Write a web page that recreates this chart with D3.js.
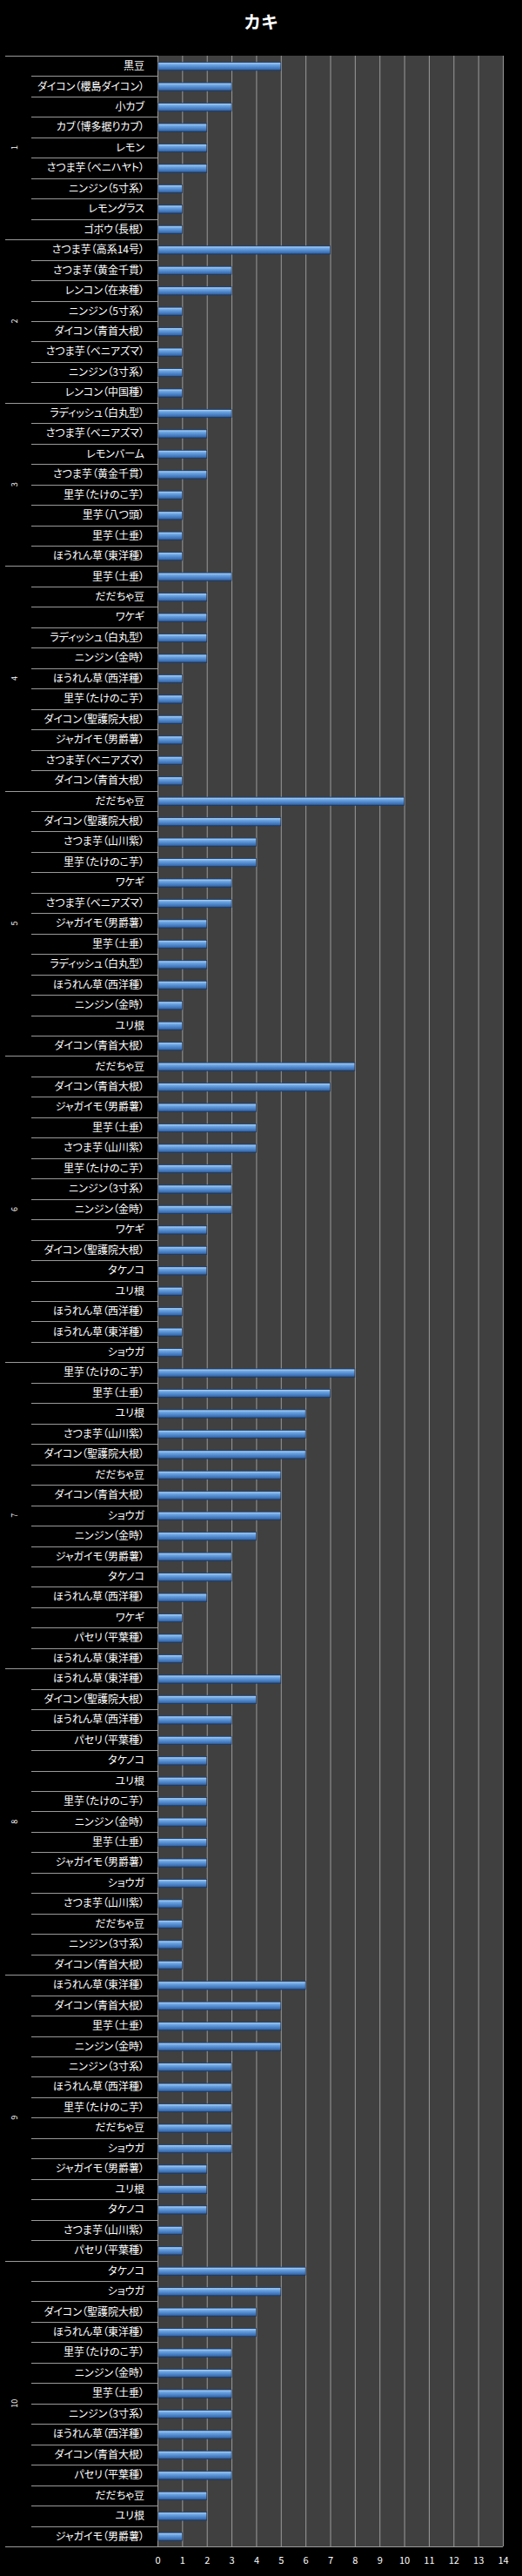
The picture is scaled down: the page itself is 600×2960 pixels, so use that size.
<!DOCTYPE html>
<html><head><meta charset="utf-8">
<script src="https://cdn.jsdelivr.net/npm/d3@7"></script>
<style>
html,body{margin:0;padding:0;background:#000;}
svg{display:block;}
text{font-family:"Noto Sans CJK JP","Noto Sans",sans-serif;}
.cat{font-feature-settings:"palt" 1;}
</style></head>
<body>
<div id="chart"></div>
<script>
const title = "カキ";
const groupNames = ["1","2","3","4","5","6","7","8","9","10"];
const categories = [
  ["黒豆","ダイコン（櫻島ダイコン）","小カブ","カブ（博多据りカブ）","レモン","さつま芋（ベニハヤト）","ニンジン（5寸系）","レモングラス","ゴボウ（長根）"],
  ["さつま芋（高系14号）","さつま芋（黄金千貫）","レンコン（在来種）","ニンジン（5寸系）","ダイコン（青首大根）","さつま芋（ベニアズマ）","ニンジン（3寸系）","レンコン（中国種）"],
  ["ラディッシュ（白丸型）","さつま芋（ベニアズマ）","レモンバーム","さつま芋（黄金千貫）","里芋（たけのこ芋）","里芋（八つ頭）","里芋（土垂）","ほうれん草（東洋種）"],
  ["里芋（土垂）","だだちゃ豆","ワケギ","ラディッシュ（白丸型）","ニンジン（金時）","ほうれん草（西洋種）","里芋（たけのこ芋）","ダイコン（聖護院大根）","ジャガイモ（男爵薯）","さつま芋（ベニアズマ）","ダイコン（青首大根）"],
  ["だだちゃ豆","ダイコン（聖護院大根）","さつま芋（山川紫）","里芋（たけのこ芋）","ワケギ","さつま芋（ベニアズマ）","ジャガイモ（男爵薯）","里芋（土垂）","ラディッシュ（白丸型）","ほうれん草（西洋種）","ニンジン（金時）","ユリ根","ダイコン（青首大根）"],
  ["だだちゃ豆","ダイコン（青首大根）","ジャガイモ（男爵薯）","里芋（土垂）","さつま芋（山川紫）","里芋（たけのこ芋）","ニンジン（3寸系）","ニンジン（金時）","ワケギ","ダイコン（聖護院大根）","タケノコ","ユリ根","ほうれん草（西洋種）","ほうれん草（東洋種）","ショウガ"],
  ["里芋（たけのこ芋）","里芋（土垂）","ユリ根","さつま芋（山川紫）","ダイコン（聖護院大根）","だだちゃ豆","ダイコン（青首大根）","ショウガ","ニンジン（金時）","ジャガイモ（男爵薯）","タケノコ","ほうれん草（西洋種）","ワケギ","パセリ（平葉種）","ほうれん草（東洋種）"],
  ["ほうれん草（東洋種）","ダイコン（聖護院大根）","ほうれん草（西洋種）","パセリ（平葉種）","タケノコ","ユリ根","里芋（たけのこ芋）","ニンジン（金時）","里芋（土垂）","ジャガイモ（男爵薯）","ショウガ","さつま芋（山川紫）","だだちゃ豆","ニンジン（3寸系）","ダイコン（青首大根）"],
  ["ほうれん草（東洋種）","ダイコン（青首大根）","里芋（土垂）","ニンジン（金時）","ニンジン（3寸系）","ほうれん草（西洋種）","里芋（たけのこ芋）","だだちゃ豆","ショウガ","ジャガイモ（男爵薯）","ユリ根","タケノコ","さつま芋（山川紫）","パセリ（平葉種）"],
  ["タケノコ","ショウガ","ダイコン（聖護院大根）","ほうれん草（東洋種）","里芋（たけのこ芋）","ニンジン（金時）","里芋（土垂）","ニンジン（3寸系）","ほうれん草（西洋種）","ダイコン（青首大根）","パセリ（平葉種）","だだちゃ豆","ユリ根","ジャガイモ（男爵薯）"]
];
const values = [
  [5,3,3,2,2,2,1,1,1],
  [7,3,3,1,1,1,1,1],
  [3,2,2,2,1,1,1,1],
  [3,2,2,2,2,1,1,1,1,1,1],
  [10,5,4,4,3,3,2,2,2,2,1,1,1],
  [8,7,4,4,4,3,3,3,2,2,2,1,1,1,1],
  [8,7,6,6,6,5,5,5,4,3,3,2,1,1,1],
  [5,4,3,3,2,2,2,2,2,2,2,1,1,1,1],
  [6,5,5,5,3,3,3,3,3,2,2,2,1,1],
  [6,5,4,4,3,3,3,3,3,3,3,2,2,1]
];
const xTicks = [0,1,2,3,4,5,6,7,8,9,10,11,12,13,14];

const W = 600, H = 2960;
const plotL = 181, plotR = 578, plotT = 64, plotB = 2926;

const rows = [];
const groupInfo = [];
categories.forEach((cats, g) => {
  const start = rows.length;
  cats.forEach((c, i) => rows.push({group: g, idx: i, label: c, value: values[g][i], key: g + "_" + i}));
  groupInfo.push({name: groupNames[g], start, end: rows.length - 1});
});

const svg = d3.select("#chart").append("svg").attr("width", W).attr("height", H);
svg.append("rect").attr("width", W).attr("height", H).attr("fill", "#000");

const defs = svg.append("defs");
const grad = defs.append("linearGradient").attr("id", "barGrad").attr("x1", 0).attr("y1", 0).attr("x2", 0).attr("y2", 1);
[[0, "#3466a6"], [0.12, "#9ec9f4"], [0.3, "#6fa6e2"], [0.6, "#4f87cb"], [0.85, "#3a6cae"], [1, "#1d3f70"]]
  .forEach(([o, c]) => grad.append("stop").attr("offset", o).attr("stop-color", c));

const x = d3.scaleLinear().domain([0, 14]).range([plotL, plotR]);
const y = d3.scaleBand().domain(rows.map(r => r.key)).range([plotT, plotB]).paddingInner(0).paddingOuter(0);

svg.append("text").attr("x", 300).attr("y", 33).attr("text-anchor", "middle")
  .attr("fill", "#fff").attr("font-size", 20).attr("font-weight", "bold").text(title);

// plot background
svg.append("rect").attr("x", plotL).attr("y", plotT).attr("width", plotR - plotL).attr("height", plotB - plotT).attr("fill", "#404040");

// grid lines
svg.append("g").selectAll("line").data(xTicks.slice(1)).join("line")
  .attr("x1", d => x(d) + 0.5).attr("x2", d => x(d) + 0.5)
  .attr("y1", plotT).attr("y2", plotB)
  .attr("stroke", "#9a9a9a").attr("stroke-width", 1);

// x axis
const xAxis = svg.append("g").attr("transform", `translate(0,${plotB})`)
  .call(d3.axisBottom(x).tickValues(xTicks).tickSize(0).tickPadding(12).tickFormat(d3.format("d")));
xAxis.select(".domain").remove();
xAxis.selectAll("text").attr("fill", "#fff").attr("font-size", 11).attr("font-family", "'Liberation Sans',Arial,sans-serif");

// left separators
const sep = svg.append("g").attr("stroke", "#9a9a9a").attr("stroke-width", 1);
rows.forEach(r => {
  const yy = Math.round(y(r.key)) + 0.5;
  sep.append("line").attr("x1", r.idx === 0 ? 6 : 36).attr("x2", plotL).attr("y1", yy).attr("y2", yy);
});
sep.append("line").attr("x1", 6).attr("x2", plotR).attr("y1", plotB + 0.5).attr("y2", plotB + 0.5);
sep.append("line").attr("x1", plotL + 0.5).attr("x2", plotL + 0.5).attr("y1", plotT).attr("y2", plotB);

// category labels
svg.append("g").selectAll("text").data(rows).join("text")
  .attr("class", "cat")
  .attr("x", 166).attr("y", d => y(d.key) + y.bandwidth() / 2)
  .attr("dy", "0.36em").attr("text-anchor", "end")
  .attr("fill", "#fff").attr("font-size", 12).text(d => d.label);

// group labels
svg.append("g").selectAll("text").data(groupInfo).join("text")
  .attr("transform", d => {
    const cy = (y(rows[d.start].key) + y(rows[d.end].key) + y.bandwidth()) / 2;
    return `translate(17,${cy}) rotate(-90)`;
  })
  .attr("text-anchor", "middle").attr("dy", "0.35em")
  .attr("fill", "#fff").attr("font-size", 9).attr("font-family", "'Liberation Sans',Arial,sans-serif")
  .text(d => d.name);

// bars
const bh = 9.5;
svg.append("g").selectAll("rect").data(rows).join("rect")
  .attr("x", x(0) + 1)
  .attr("y", d => y(d.key) + y.bandwidth() / 2 - bh / 2 + 0.5)
  .attr("width", d => x(d.value) - x(0) - 1)
  .attr("height", bh)
  .attr("fill", "url(#barGrad)")
  .attr("stroke", "#1c3760").attr("stroke-width", 0.6);
</script>
</body></html>
